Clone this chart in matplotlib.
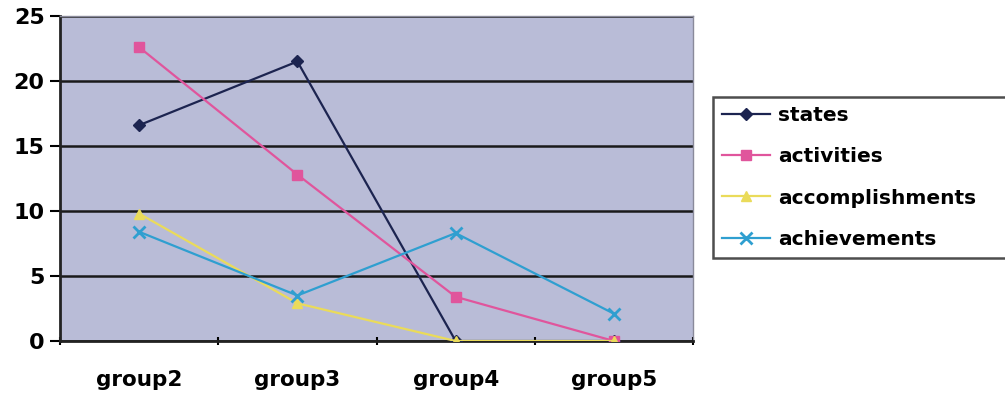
import numpy as np
import matplotlib
matplotlib.use("Agg")
import matplotlib.pyplot as plt

# Category labels and the four verb-class series
groups = ["group2", "group3", "group4", "group5"]
states = [16.6, 21.5, 0.0, 0.0]
activities = [22.6, 12.8, 3.4, 0.0]
accomplishments = [9.8, 2.9, 0.0, 0.0]
achievements = [8.4, 3.5, 8.3, 2.1]
y_ticks = [0, 5, 10, 15, 20, 25]

series = [
    ("states", states, "#1c2450", "D", 6),
    ("activities", activities, "#e0559c", "s", 7),
    ("accomplishments", accomplishments, "#eadb5a", "^", 7),
    ("achievements", achievements, "#2f9fd0", "x", 9),
]

plt.rcParams["font.family"] = ["DejaVu Sans"]
plt.rcParams["font.weight"] = "bold"

fig = plt.figure(figsize=(10.05, 3.95), dpi=100)
ax = fig.add_axes([0.0597, 0.1367, 0.6299, 0.8228])
ax.set_facecolor("#b9bcd7")

x = np.arange(len(groups))
for name, vals, color, marker, ms in series:
    ax.plot(x, vals, color=color, lw=1.6, marker=marker, ms=ms,
            mew=2 if marker == "x" else 1, mec=color, mfc=color,
            label=name, zorder=3)

ax.set_ylim(0, 25)
ax.set_xlim(-0.5, len(groups) - 0.5)
ax.set_yticks(y_ticks)
ax.set_yticklabels([str(v) for v in y_ticks], fontsize=16, fontweight="bold")
ax.yaxis.grid(True, color="#1a1a1a", lw=1.8, zorder=1)
ax.set_axisbelow(True)

# Tick marks sit at category boundaries, labels at category centres
ax.set_xticks(np.arange(-0.5, len(groups), 1.0))
ax.set_xticklabels([])
ax.set_xticks(x, minor=True)
ax.set_xticklabels(groups, minor=True, fontsize=15.5, fontweight="bold")
ax.tick_params(axis="x", which="minor", length=0, pad=21)
ax.tick_params(axis="x", which="major", length=6, width=1.5, direction="inout")
ax.tick_params(axis="y", length=7, width=1.5, pad=4)

for side in ("left", "bottom"):
    ax.spines[side].set_color("#222222")
    ax.spines[side].set_linewidth(2)
for side in ("top", "right"):
    ax.spines[side].set_color("#8a8a9a")
    ax.spines[side].set_linewidth(1)

leg = fig.legend(loc="upper left", bbox_to_anchor=(0.7095, 0.337, 0.40, 0.417),
                 mode="expand", frameon=True, fancybox=False,
                 borderaxespad=0, handlelength=2.4, handletextpad=0.4,
                 labelspacing=1.1, borderpad=0.45, prop={"weight": "bold", "size": 14.5})
leg.get_frame().set_edgecolor("#222222")
leg.get_frame().set_linewidth(1.8)

fig.savefig("out.png", dpi=100)
